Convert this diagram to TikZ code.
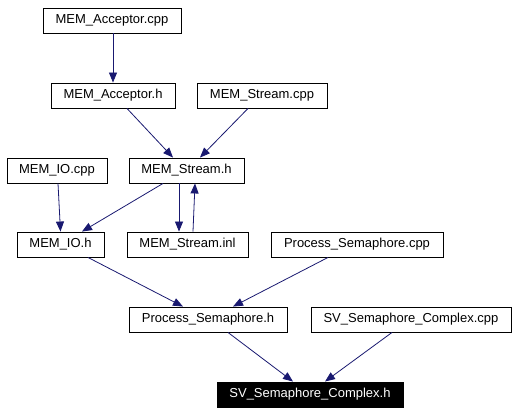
\documentclass[tikz,border=0pt]{standalone}
\usepackage{fontspec}
\setmainfont{Liberation Sans}
\usetikzlibrary{arrows.meta}
\definecolor{edgeblue}{HTML}{191970}
\tikzset{
  box/.style={draw=black, line width=0.9pt, rectangle, minimum height=25pt, inner sep=0pt, font=\fontsize{13}{15}\selectfont},
  hbox/.style={box, fill=black, text=white},
  dep/.style={draw=edgeblue, line width=0.8pt, -{Triangle[length=10pt,width=8pt]}, shorten >=0pt}
}
\begin{document}
\begin{tikzpicture}[x=1pt,y=-1pt]
\useasboundingbox (0,0) rectangle (517,413);
\node[box, minimum width=138pt] (acpp) at (112,20.5) {MEM\_Acceptor.cpp};
\node[box, minimum width=124pt] (ah) at (113,95.5) {MEM\_Acceptor.h};
\node[box, minimum width=130pt] (scpp) at (262,95.5) {MEM\_Stream.cpp};
\node[box, minimum width=100pt] (iocpp) at (57,170.5) {MEM\_IO.cpp};
\node[box, minimum width=115pt] (sh) at (186.5,170.5) {MEM\_Stream.h};
\node[box, minimum width=87pt] (ioh) at (60.5,244.5) {MEM\_IO.h};
\node[box, minimum width=121pt] (sinl) at (187.5,244.5) {MEM\_Stream.inl};
\node[box, minimum width=172pt] (pcpp) at (357,244.5) {Process\_Semaphore.cpp};
\node[box, minimum width=158pt] (ph) at (208,319.5) {Process\_Semaphore.h};
\node[box, minimum width=200pt] (svcpp) at (411,319.5) {SV\_Semaphore\_Complex.cpp};
\node[hbox, minimum width=186pt] (svh) at (310,394.5) {SV\_Semaphore\_Complex.h};

\draw[dep] ([xshift=1pt]acpp.south) -- (ah.north);
\draw[dep] ([xshift=14pt]ah.south) -- ([xshift=-13.5pt]sh.north);
\draw[dep] ([xshift=-14pt]scpp.south) -- ([xshift=13.5pt]sh.north);
\draw[dep] ([xshift=1pt]iocpp.south) -- (ioh.north);
\draw[dep] ([xshift=-23.5pt]sh.south) -- ([xshift=21.5pt]ioh.north);
\draw[dep] ([xshift=-7.5pt]sh.south) -- ([xshift=-8.5pt]sinl.north);
\draw[dep] ([xshift=5.5pt]sinl.north) -- ([xshift=8.5pt]sh.south);
\draw[dep] ([xshift=27.5pt]ioh.south) -- ([xshift=-25pt]ph.north);
\draw[dep] ([xshift=-29pt]pcpp.south) -- ([xshift=25pt]ph.north);
\draw[dep] ([xshift=20pt]ph.south) -- ([xshift=-17pt]svh.north);
\draw[dep] ([xshift=-19pt]svcpp.south) -- ([xshift=15pt]svh.north);
\end{tikzpicture}
\end{document}
